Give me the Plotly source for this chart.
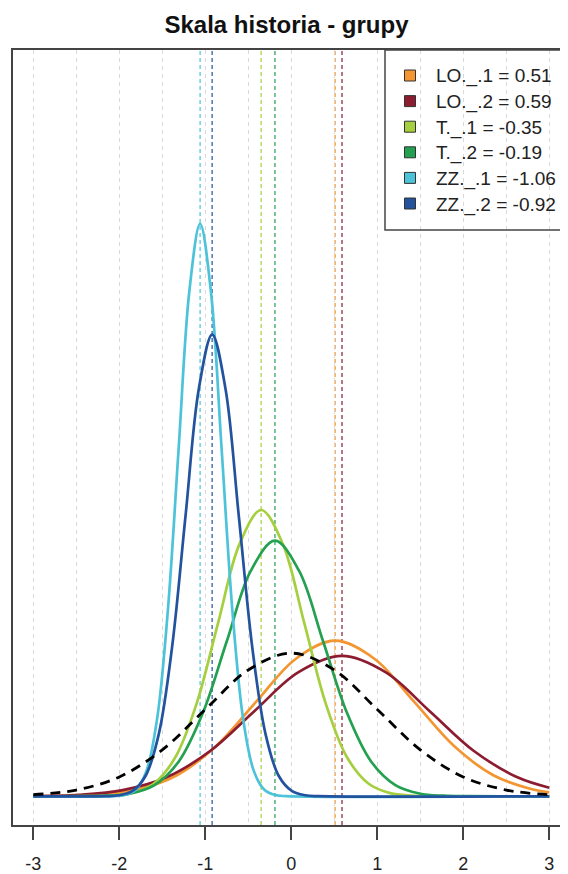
import plotly.graph_objects as go

# ---- data ----
group_names = ["LO._.1", "LO._.2", "T._.1", "T._.2", "ZZ._.1", "ZZ._.2"]
group_means = [0.51, 0.59, -0.35, -0.19, -1.06, -0.92]
group_colors = ["#F39530", "#8C1C30", "#A5CF3E", "#23A050", "#4CC3D9", "#23529E"]

lo1_x = [-3.0, -2.71, -2.25, -1.79, -1.33, -0.87, -0.41, 0.05, 0.51, 0.97, 1.43, 1.89, 2.35, 2.81, 3.0]
lo1_y = [0.0003, 0.00095, 0.0048, 0.0190, 0.0587, 0.1408, 0.2630, 0.3827, 0.4336, 0.3827, 0.2630, 0.1408, 0.0587, 0.0190, 0.0111]

lo2_x = [-3.0, -2.47, -1.96, -1.45, -0.94, -0.43, 0.08, 0.59, 1.10, 1.61, 2.12, 2.63, 3.0]
lo2_y = [0.0008, 0.0043, 0.0172, 0.0529, 0.1270, 0.2372, 0.3452, 0.3911, 0.3452, 0.2372, 0.1270, 0.0529, 0.0240]

t1_x = [-3.0, -2.35, -2.1, -1.85, -1.6, -1.35, -1.1, -0.85, -0.6, -0.35, -0.1, 0.15, 0.4, 0.65, 0.9, 1.15, 1.4, 1.65, 3.0]
t1_y = [0.0, 0.0003, 0.0018, 0.0089, 0.0350, 0.1080, 0.2591, 0.4839, 0.7042, 0.7979, 0.7042, 0.4839, 0.2591, 0.1080, 0.0350, 0.0089, 0.0018, 0.0003, 0.0]

t2_x = [-3.0, -2.43, -2.15, -1.87, -1.59, -1.31, -1.03, -0.75, -0.47, -0.19, 0.09, 0.37, 0.65, 0.93, 1.21, 1.49, 1.77, 2.05, 3.0]
t2_y = [0.0, 0.0002, 0.0016, 0.0079, 0.0313, 0.0964, 0.2313, 0.4321, 0.6287, 0.7124, 0.6287, 0.4321, 0.2313, 0.0964, 0.0313, 0.0079, 0.0016, 0.0002, 0.0]

zz1_x = [-3.0, -2.06, -1.935, -1.81, -1.685, -1.56, -1.435, -1.31, -1.185, -1.06, -0.935, -0.81, -0.685, -0.56, -0.435, -0.31, -0.185, -0.06, 3.0]
zz1_y = [0.0, 0.0005, 0.0035, 0.0177, 0.0701, 0.2160, 0.5182, 0.9679, 1.4083, 1.5958, 1.4083, 0.9679, 0.5182, 0.2160, 0.0701, 0.0177, 0.0035, 0.0005, 0.0]

zz2_x = [-3.0, -2.16, -2.005, -1.85, -1.695, -1.54, -1.385, -1.23, -1.075, -0.92, -0.765, -0.61, -0.455, -0.30, -0.145, 0.01, 0.165, 0.32, 3.0]
zz2_y = [0.0, 0.0004, 0.0028, 0.0143, 0.0565, 0.1741, 0.4179, 0.7805, 1.1357, 1.2869, 1.1357, 0.7805, 0.4179, 0.1741, 0.0565, 0.0143, 0.0028, 0.0004, 0.0]

all_x = [-3.0, -2.5, -2.0, -1.5, -1.0, -0.5, 0.0, 0.5, 1.0, 1.5, 2.0, 2.5, 3.0]
all_y = [0.0044, 0.0175, 0.0540, 0.1295, 0.2420, 0.3521, 0.3989, 0.3521, 0.2420, 0.1295, 0.0540, 0.0175, 0.0044]

tick_vals = [-3, -2, -1, 0, 1, 2, 3]
tick_text = ["-3", "-2", "-1", "0", "1", "2", "3"]
grid_minor = [-2.5, -1.5, -0.5, 0.5, 1.5, 2.5]

curves_x = [lo1_x, lo2_x, t1_x, t2_x, zz1_x, zz2_x]
curves_y = [lo1_y, lo2_y, t1_y, t2_y, zz1_y, zz2_y]

FONT = "Liberation Sans, Arial, Helvetica, sans-serif"

# page body has an 8px margin; figure is placed at (8, 8)
W, H = 560, 866
PL, PR, PT, PB = 13, 568, 50, 825          # plot box in page pixels


def px_x(p):
    return (p - PL) / (PR - PL)


def px_y(p):
    return (PB - p) / (PB - PT)


fig = go.Figure()

# vertical dashed lines at group means
for m, c in zip(group_means, group_colors):
    fig.add_shape(type="line", xref="x", yref="paper", x0=m, x1=m, y0=0, y1=1,
                  line=dict(color=c, width=1.6, dash="4px,3px"), opacity=0.75, layer="below")

# density curves
for xs, ys, c in zip(curves_x, curves_y, group_colors):
    fig.add_trace(go.Scatter(x=xs, y=ys, mode="lines", line=dict(color=c, width=2.7, shape="spline", smoothing=1.0),
                             showlegend=False, hoverinfo="skip"))

fig.add_trace(go.Scatter(x=all_x, y=all_y, mode="lines",
                         line=dict(color="black", width=2.8, shape="spline", smoothing=1.0, dash="10px,7px"),
                         showlegend=False, hoverinfo="skip"))

# legend frame (touches the top-right corner of the plot box)
fig.add_shape(type="rect", xref="paper", yref="paper", x0=px_x(385), x1=1.05, y0=px_y(230), y1=1,
              line=dict(color="#444", width=1.5), fillcolor="rgba(0,0,0,0)", layer="above")

# legend rows: filled squares + labels
row_top, row_step = 75.5, 25.6
for i, (n, m, c) in enumerate(zip(group_names, group_means, group_colors)):
    yc = row_top + i * row_step
    fig.add_shape(type="rect", xref="paper", yref="paper",
                  x0=px_x(404.5), x1=px_x(415.5), y0=px_y(yc + 5.5), y1=px_y(yc - 5.5),
                  line=dict(color="#333", width=1), fillcolor=c, layer="above")
    fig.add_annotation(xref="paper", yref="paper", x=px_x(434), y=px_y(yc + 1), xanchor="left", yanchor="middle",
                       text=f"{n} = {m:.2f}", showarrow=False,
                       font=dict(size=19, color="#222", family=FONT))

fig.update_layout(
    width=W, height=H,
    margin=dict(l=PL - 8, r=0, t=PT - 8, b=8 + H - PB, pad=0, autoexpand=False),
    paper_bgcolor="white", plot_bgcolor="white",
    font=dict(family=FONT, color="#222"),
    title=dict(text="<b>Skala historia - grupy</b>", font=dict(size=24, color="#111", family=FONT),
               x=(286.5 - 8) / W, xref="container", xanchor="center",
               y=1 - 17 / H, yref="container", yanchor="middle", automargin=False),
    showlegend=False,
    xaxis=dict(range=[-3.236, 3.218], showline=True, mirror=True, linecolor="#444", linewidth=1.5,
               automargin=False,
               ticks="outside", ticklen=13, tickwidth=1.5, tickcolor="#444",
               tickvals=tick_vals, ticktext=tick_text, tickfont=dict(size=18, color="#222"),
               ticklabelstandoff=9,
               showgrid=True, gridcolor="#d9d9d9", gridwidth=1, griddash="4px,4px", zeroline=False,
               minor=dict(tickvals=grid_minor, showgrid=True, gridcolor="#d9d9d9", gridwidth=1,
                          griddash="4px,4px", ticks="")),
    yaxis=dict(range=[-0.08, 2.08], showline=True, linecolor="#444", linewidth=1.5, mirror=False,
               automargin=False,
               showticklabels=False, ticks="", showgrid=False, zeroline=False),
)

fig.write_html("out.html")
